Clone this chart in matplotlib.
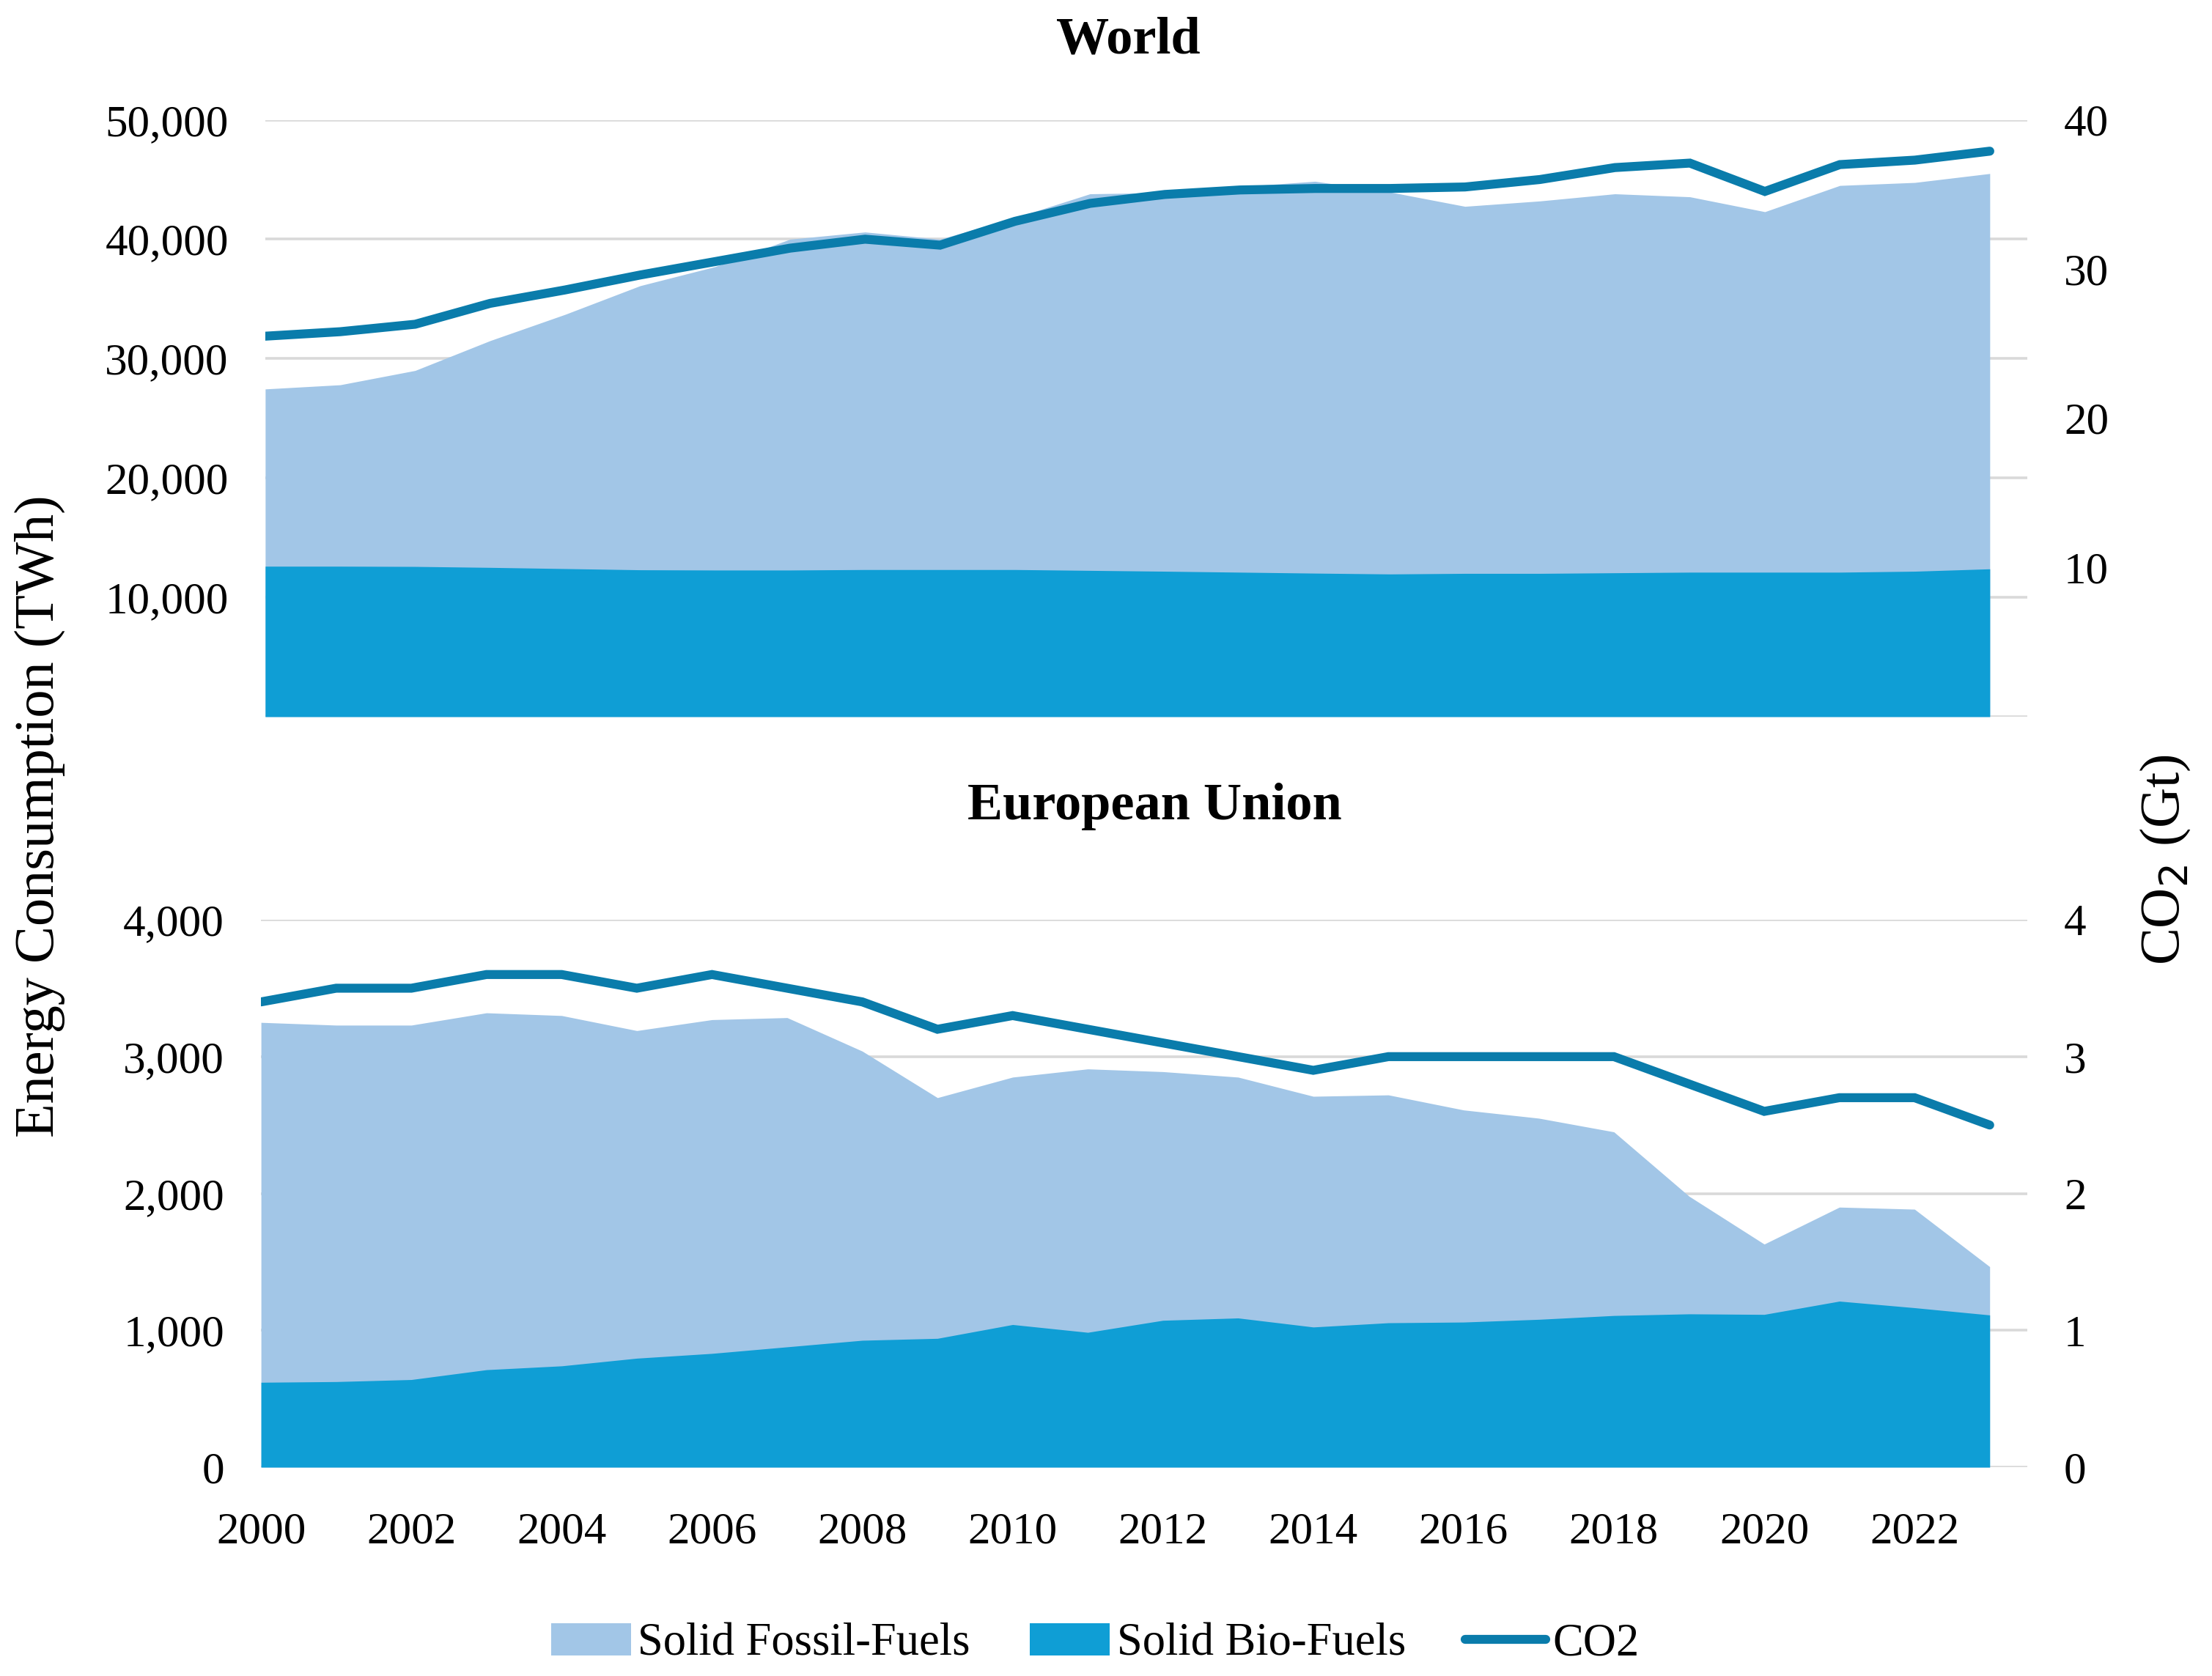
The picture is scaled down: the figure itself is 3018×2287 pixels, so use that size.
import matplotlib
matplotlib.use("Agg")
import matplotlib.pyplot as plt
from matplotlib.ticker import FuncFormatter

plt.rcParams['font.family'] = ['Liberation Serif', 'DejaVu Serif']

# colours
light = '#A2C6E7'
dark = '#0F9ED5'
line_col = '#0A7CAB'
grid_col = '#D9D9D9'

years = list(range(2000, 2024))

# World (TWh, Gt)
world_fossil = [27450, 27800, 29000, 31500, 33700, 36100, 37700, 40000, 40600, 40000,
                41800, 43800, 43900, 44400, 44850, 43950, 42750, 43200, 43800, 43550,
                42300, 44500, 44750, 45500]
world_bio = [12600, 12600, 12580, 12500, 12400, 12300, 12280, 12280, 12320, 12320,
             12320, 12250, 12180, 12100, 12020, 11950, 12000, 12000, 12050, 12100,
             12100, 12100, 12180, 12380]
world_co2 = [25.5, 25.8, 26.3, 27.7, 28.6, 29.6, 30.5, 31.4, 32.0, 31.6,
             33.2, 34.4, 35.0, 35.3, 35.4, 35.4, 35.5, 36.0, 36.8, 37.1,
             35.2, 37.0, 37.3, 37.9]

# European Union (TWh, Gt)
eu_fossil = [3250, 3230, 3230, 3320, 3300, 3190, 3270, 3285, 3040, 2700,
             2850, 2910, 2890, 2850, 2710, 2720, 2610, 2550, 2450, 1980,
             1630, 1900, 1885, 1465]
eu_bio = [620, 625, 640, 712, 740, 796, 831, 879, 927, 941,
          1042, 985, 1073, 1090, 1024, 1055, 1060, 1080, 1108, 1120,
          1116, 1213, 1165, 1112]
eu_co2 = [3.4, 3.5, 3.5, 3.6, 3.6, 3.5, 3.6, 3.5, 3.4, 3.2,
          3.3, 3.2, 3.1, 3.0, 2.9, 3.0, 3.0, 3.0, 3.0, 2.8,
          2.6, 2.7, 2.7, 2.5]

world_left_ticks = [10000, 20000, 30000, 40000, 50000]
world_right_ticks = [10, 20, 30, 40]
eu_left_ticks = [0, 1000, 2000, 3000, 4000]
eu_right_ticks = [0, 1, 2, 3, 4]
year_ticks = list(range(2000, 2023, 2))

FS = 22
fig = plt.figure(figsize=(15.09, 11.435), dpi=200)


def panel(rect, fossil, bio, co2, ymax, rmax, lticks, rticks, grid_step, show_x):
    ax = fig.add_axes(rect)
    ax.fill_between(years, 0, fossil, color=light, lw=0, label='Solid Fossil-Fuels', zorder=1)
    ax.fill_between(years, 0, bio, color=dark, lw=0, label='Solid Bio-Fuels', zorder=2)
    ax.set_xlim(2000, 2023.5)
    ax.set_ylim(0, ymax)
    ax.set_yticks(lticks)
    ax.yaxis.set_major_formatter(FuncFormatter(lambda v, p: f"{int(v):,}"))
    # gridlines every grid_step, drawn behind the areas
    for g in range(0, ymax + 1, grid_step):
        ax.axhline(g, color=grid_col, lw=1.3, zorder=0.5)
    ax.tick_params(axis='y', which='both', length=0, labelsize=FS, pad=18)
    ax.set_xticks(year_ticks)
    ax.tick_params(axis='x', length=0, labelsize=FS, pad=22, labelbottom=show_x)
    for s in ax.spines.values():
        s.set_visible(False)

    ax2 = ax.twinx()
    ax2.plot(years, co2, color=line_col, lw=4.4, solid_capstyle='round',
             solid_joinstyle='miter', label='CO2')
    ax2.set_ylim(0, rmax)
    ax2.set_yticks(rticks)
    ax2.tick_params(axis='y', length=0, labelsize=FS, pad=18)
    for s in ax2.spines.values():
        s.set_visible(False)
    return ax, ax2


ax_w, ax_w2 = panel([0.1199, 0.5724, 0.7966, 0.3561], world_fossil, world_bio, world_co2,
                    50000, 40, world_left_ticks, world_right_ticks, 10000, False)
ax_e, ax_e2 = panel([0.1180, 0.1246, 0.7985, 0.3266], eu_fossil, eu_bio, eu_co2,
                    4000, 4, eu_left_ticks, eu_right_ticks, 1000, True)

fig.text(0.510, 0.976, 'World', ha='center', va='center', fontsize=26, fontweight='bold')
fig.text(0.522, 0.519, 'European Union', ha='center', va='center', fontsize=26, fontweight='bold')
fig.text(0.018, 0.513, 'Energy Consumption (TWh)', rotation=90, ha='center', va='center', fontsize=27.5)
fig.text(0.979, 0.487, 'CO$_2$ (Gt)', rotation=90, ha='center', va='center', fontsize=27.5)

h1, l1 = ax_e.get_legend_handles_labels()
h2, l2 = ax_e2.get_legend_handles_labels()
fig.legend(h1 + h2, l1 + l2, loc='center', bbox_to_anchor=(0.495, 0.019), ncol=3,
           frameon=False, fontsize=22.5, handlelength=1.75, handleheight=0.7,
           handletextpad=0.15, columnspacing=1.3)

fig.savefig('out.png', dpi=200)
